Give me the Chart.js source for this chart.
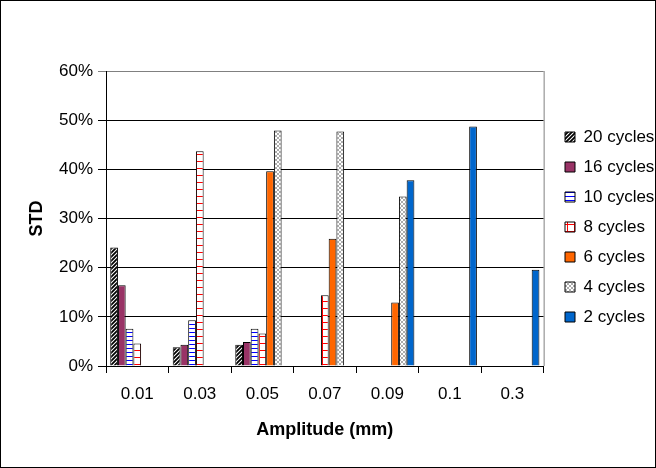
<!DOCTYPE html>
<html lang="en">
<head>
    <meta charset="UTF-8">
    <script src="https://cdn.jsdelivr.net/npm/chart.js"></script>
    <title>STD vs Amplitude</title>
    <style>
        body { margin: 0; background: #fff; }
    </style>
</head>
<body>
    <canvas id="stdChart" width="656" height="468"></canvas>

    <script>
    // amplitude categories (mm)
    const amplitudes = ['0.01', '0.03', '0.05', '0.07', '0.09', '0.1', '0.3'];
    const seriesNames = ['20 cycles', '16 cycles', '10 cycles', '8 cycles', '6 cycles', '4 cycles', '2 cycles'];

    // STD in percent
    const cycles20 = [24.1, 3.8, 4.3, null, null, null, null];
    const cycles16 = [16.4, 4.3, 4.9, null, null, null, null];
    const cycles10 = [7.6, 9.3, 7.6, null, null, null, null];
    const cycles8  = [4.6, 43.7, 6.6, 14.4, null, null, null];
    const cycles6  = [null, null, 39.6, 25.9, 12.9, null, null];
    const cycles4  = [null, null, 47.9, 47.7, 34.5, null, null];
    const cycles2  = [null, null, null, null, 37.8, 48.7, 19.6];

    const yTicks = [0, 10, 20, 30, 40, 50, 60];

    const FONT = 'Liberation Sans, Arial';

    function makePattern(w, h, drawFn) {
        const c = document.createElement('canvas');
        c.width = w;
        c.height = h;
        const g = c.getContext('2d');
        g.fillStyle = '#fff';
        g.fillRect(0, 0, w, h);
        drawFn(g);
        return c.getContext('2d').createPattern(c, 'repeat');
    }

    const diagStripes = makePattern(4, 4, g => {
        g.strokeStyle = '#000';
        g.lineWidth = 1.8;
        g.beginPath();
        g.moveTo(-1, 5); g.lineTo(5, -1);
        g.moveTo(-1, 1); g.lineTo(1, -1);
        g.moveTo(3, 5); g.lineTo(5, 3);
        g.stroke();
    });
    const blueLines = makePattern(4, 4, g => {
        g.fillStyle = '#0000ff';
        g.fillRect(0, 0, 4, 1);
    });
    const redGrid = makePattern(7, 7, g => {
        g.fillStyle = '#ff0000';
        g.fillRect(0, 0, 7, 1);
        g.fillRect(0, 0, 1, 7);
    });
    const grayWeave = makePattern(4, 4, g => {
        g.strokeStyle = '#888';
        g.lineWidth = 0.7;
        g.beginPath();
        g.moveTo(0, 4); g.lineTo(4, 0);
        g.moveTo(0, 0); g.lineTo(4, 4);
        g.stroke();
    });

    const fills = [diagStripes, '#993366', blueLines, redGrid, '#ff6600', grayWeave, '#0066cc'];
    const values = [cycles20, cycles16, cycles10, cycles8, cycles6, cycles4, cycles2];

    const frame = {
        id: 'frame',
        afterLayout(chart) {
            // put the legend where Excel had it
            const l = chart.legend;
            const dx = 552 - l.left;
            const dy = (454 - (l.top + l.bottom)) / 2;
            l.left += dx; l.right += dx;
            l.top += dy; l.bottom += dy;
        },
        afterDraw(chart) {
            const ctx = chart.ctx;
            const a = chart.chartArea;
            ctx.save();
            ctx.strokeStyle = '#808080';
            ctx.lineWidth = 1;
            ctx.beginPath();
            ctx.moveTo(a.right + 0.5, a.top);
            ctx.lineTo(a.right + 0.5, a.bottom);
            ctx.stroke();
            ctx.strokeStyle = '#000';
            ctx.strokeRect(0.5, 0.5, chart.width - 1, chart.height - 1);
            ctx.restore();
        }
    };

    new Chart(document.getElementById('stdChart'), {
        type: 'bar',
        data: {
            labels: amplitudes,
            datasets: seriesNames.map((name, i) => ({
                label: name,
                data: values[i],
                backgroundColor: fills[i],
                borderColor: '#000',
                borderWidth: 1,
                categoryPercentage: 0.865,
                barPercentage: 1
            }))
        },
        options: {
            responsive: false,
            animation: false,
            layout: { padding: { left: 0, right: 0, top: 71, bottom: 20 } },
            plugins: {
                tooltip: { enabled: false },
                legend: {
                    position: 'right',
                    labels: {
                        boxWidth: 10,
                        boxHeight: 10,
                        padding: 13,
                        color: '#000',
                        font: { family: FONT, size: 17 }
                    }
                }
            },
            scales: {
                x: {
                    grid: { offset: true, drawOnChartArea: false, color: '#000', tickLength: 7 },
                    border: { color: '#000' },
                    ticks: { color: '#000', padding: 11, font: { family: FONT, size: 17 } },
                    title: {
                        display: true,
                        text: 'Amplitude (mm)',
                        color: '#000',
                        padding: { top: 0, bottom: 7 },
                        font: { family: FONT, size: 18, weight: 'bold' }
                    },
                    afterFit(s) { s.height = 82; }
                },
                y: {
                    min: 0,
                    max: 60,
                    afterBuildTicks(s) { s.ticks = yTicks.map(v => ({ value: v })); },
                    grid: {
                        color: c => c.tick && c.tick.value === 60 ? '#808080' : '#000',
                        tickLength: 8
                    },
                    border: { color: '#000' },
                    ticks: {
                        color: '#000',
                        padding: 5,
                        font: { family: FONT, size: 17 },
                        callback: v => v + '%'
                    },
                    title: {
                        display: true,
                        text: 'STD',
                        color: '#000',
                        padding: { top: 26, bottom: 0 },
                        font: { family: FONT, size: 18, weight: 'bold' }
                    },
                    afterFit(s) { s.width = 106; }
                }
            }
        },
        plugins: [frame]
    });
    </script>
</body>
</html>
